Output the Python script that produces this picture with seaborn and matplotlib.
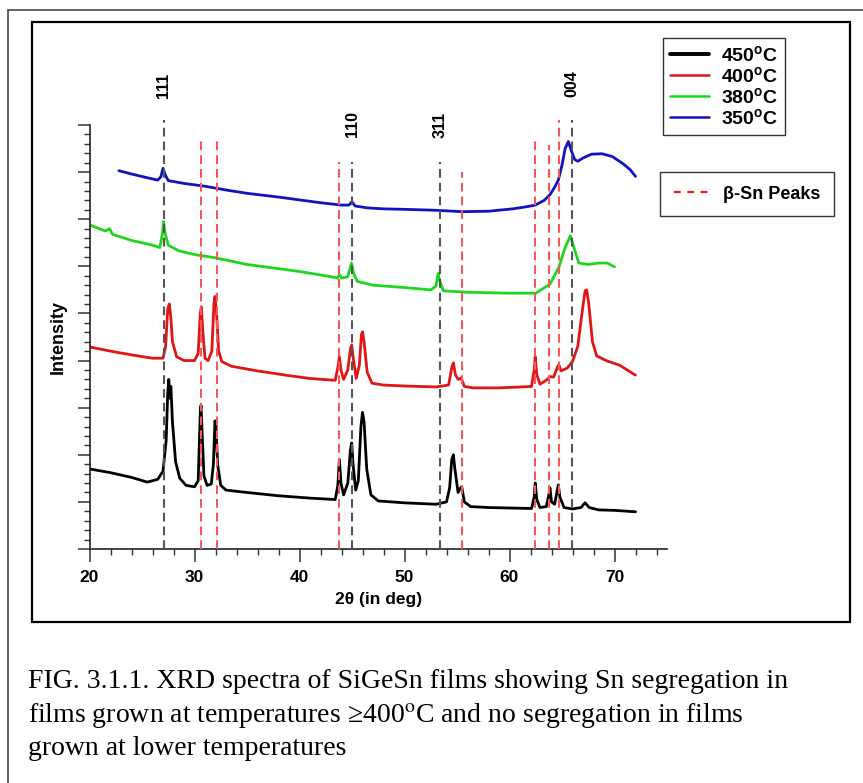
import numpy as np
import pandas as pd
import matplotlib
matplotlib.use("Agg")
import matplotlib.pyplot as plt
from matplotlib.lines import Line2D
from matplotlib.patches import Rectangle
from matplotlib.ticker import MultipleLocator, NullFormatter
import seaborn as sns

# ---------------------------------------------------------------- data
# XRD scans (2-theta in degrees, offset intensity in arbitrary units)
tt_450 = [20, 22, 24, 25.5, 26.5, 27.0, 27.3, 27.45, 27.55, 27.65, 27.75, 27.9, 28.2, 28.6,
          29.2, 30.0, 30.35, 30.55, 30.62, 30.72, 30.9, 31.2, 31.6, 31.8, 31.95, 32.05, 32.2,
          32.5, 33, 35, 38, 41, 43.4, 43.65, 43.8, 43.95, 44.2, 44.6, 44.85, 44.97, 45.1, 45.35,
          45.6, 45.85, 46.0, 46.15, 46.4, 46.8, 47.5, 50, 53, 54.0, 54.3, 54.5, 54.65, 54.8,
          55.1, 55.35, 55.45, 55.7, 56.3, 58, 60, 62.1, 62.35, 62.45, 62.6, 62.9, 63.5, 63.75,
          63.85, 64.0, 64.3, 64.55, 64.65, 64.8, 65.2, 66, 66.8, 67.2, 67.6, 68.5, 70, 72]
i_450 = [1.70, 1.62, 1.52, 1.42, 1.48, 1.65, 2.30, 3.30, 3.60, 3.20, 3.45, 2.70, 1.85, 1.50,
         1.35, 1.32, 1.45, 2.90, 3.05, 2.50, 1.55, 1.35, 1.38, 1.80, 2.72, 2.60, 1.80,
         1.35, 1.25, 1.20, 1.13, 1.08, 1.05, 1.35, 1.90, 1.40, 1.15, 1.40, 2.10, 2.25, 1.80, 1.25,
         1.45, 2.60, 2.90, 2.70, 1.70, 1.15, 1.02, 0.98, 0.95, 1.00, 1.30, 1.90, 2.00, 1.70,
         1.20, 1.30, 1.32, 1.00, 0.90, 0.88, 0.87, 0.86, 1.10, 1.40, 1.05, 0.88, 0.90, 1.15,
         1.30, 1.00, 0.95, 1.25, 1.36, 1.10, 0.88, 0.85, 0.88, 0.98, 0.88, 0.83, 0.82, 0.79]

tt_400 = [20, 22, 24, 26, 27.0, 27.25, 27.45, 27.6, 27.75, 27.9, 28.3, 29, 30, 30.35, 30.55,
          30.65, 30.8, 31.0, 31.3, 31.65, 31.85, 31.95, 32.1, 32.3, 32.6, 33.5, 36, 39, 41,
          43.4, 43.65, 43.8, 43.95, 44.2, 44.6, 44.85, 44.97, 45.15, 45.4, 45.7, 45.9, 46.0,
          46.15, 46.45, 46.9, 48, 50, 53, 54.2, 54.5, 54.65, 54.85, 55.1, 55.4, 55.7, 56.5, 59,
          62.1, 62.35, 62.45, 62.6, 62.9, 63.5, 63.85, 64.2, 64.6, 64.7, 64.9, 65.5, 66.0, 66.5,
          66.9, 67.2, 67.35, 67.55, 67.9, 68.3, 69.2, 70.5, 72.0]
i_400 = [4.29, 4.20, 4.12, 4.05, 4.05, 4.30, 5.10, 5.20, 4.90, 4.40, 4.08, 4.00, 4.00, 4.15, 5.00,
         5.14, 4.60, 4.05, 4.00, 4.20, 5.20, 5.36, 5.00, 4.20, 3.98, 3.88, 3.78, 3.68, 3.62,
         3.58, 3.85, 4.08, 3.80, 3.60, 3.80, 4.25, 4.33, 4.00, 3.62, 3.90, 4.55, 4.61,
         4.40, 3.75, 3.52, 3.48, 3.46, 3.44, 3.48, 3.85, 3.95, 3.70, 3.60, 3.63, 3.45, 3.42, 3.42,
         3.45, 3.80, 4.08, 3.70, 3.50, 3.58, 3.66, 3.65, 3.88, 3.91, 3.78, 3.84, 3.98, 4.30,
         5.00, 5.48, 5.50, 5.20, 4.40, 4.10, 4.00, 3.90, 3.69]

tt_380 = [20, 21.5, 21.9, 22.2, 24, 26, 26.7, 26.95, 27.05, 27.2, 27.5, 28.5, 30, 32, 35, 38,
          40, 43, 43.6, 43.8, 44.0, 44.6, 44.95, 45.15, 45.5, 47, 50, 52.5, 53.0, 53.2, 53.35,
          53.7, 56, 60, 62.5, 63.85, 64.7, 65.3, 65.8, 66.2, 66.6, 67.5, 68.5, 69.3, 70]
i_380 = [6.88, 6.75, 6.80, 6.68, 6.55, 6.45, 6.40, 6.70, 6.95, 6.70, 6.45, 6.33, 6.25, 6.18,
         6.04, 5.95, 5.89, 5.78, 5.75, 5.82, 5.75, 5.78, 6.07, 5.85, 5.68, 5.60, 5.55, 5.50,
         5.58, 5.85, 5.70, 5.48, 5.45, 5.43, 5.43, 5.62, 5.98, 6.40, 6.65, 6.35, 6.07, 6.04,
         6.07, 6.07, 5.99]

tt_350 = [22.8, 24, 25.5, 26.5, 26.8, 27.0, 27.2, 27.5, 29, 31, 33, 35, 38, 40, 42, 44, 44.7,
          45.0, 45.3, 46.5, 48, 50, 53, 55.5, 58, 60.3, 61.5, 62.45, 63.3, 63.85, 64.3, 64.65,
          65.0, 65.3, 65.6, 65.9, 66.2, 66.5, 67.0, 67.8, 68.8, 69.8, 70.8, 71.5, 72.0]
i_350 = [8.03, 7.96, 7.88, 7.83, 7.90, 8.08, 7.95, 7.82, 7.76, 7.70, 7.62, 7.55, 7.47, 7.41,
         7.35, 7.30, 7.30, 7.37, 7.28, 7.24, 7.22, 7.21, 7.19, 7.16, 7.17, 7.22, 7.26, 7.30,
         7.40, 7.52, 7.68, 7.83, 8.15, 8.50, 8.65, 8.45, 8.27, 8.23, 8.30, 8.38, 8.39, 8.33,
         8.18, 8.05, 7.91]

sample_labels = ["450", "400", "380", "350"]
sample_colors = ["#000000", "#e01616", "#1fd61f", "#1212c2"]

# substrate / film reflections
refl_pos = [27.05, 45.0, 53.35, 65.95]
refl_names = ["111", "110", "311", "004"]
refl_top = [9.1, 8.22, 8.22, 9.1]
refl_label_y = [9.85, 9.03, 9.0, 9.87]

# beta-Sn reflections
sn_pos = [30.65, 32.15, 43.8, 55.5, 62.45, 63.8, 64.7]
sn_top = [8.68, 8.68, 8.22, 8.0, 8.65, 8.58, 9.1]

caption_lines = [
    "FIG. 3.1.1. XRD spectra of SiGeSn films showing Sn segregation in",
    "films grown at temperatures \u2265400$^{\\mathrm{o}}$C and no segregation in films",
    "grown at lower temperatures",
]

# ---------------------------------------------------------------- style
sns.set_theme(style="white")
plt.rcParams["font.family"] = ["Liberation Sans", "DejaVu Sans"]
plt.rcParams["text.color"] = "black"
plt.rcParams["axes.labelcolor"] = "black"
plt.rcParams["xtick.color"] = "black"
plt.rcParams["ytick.color"] = "black"
plt.rcParams["mathtext.fontset"] = "custom"
plt.rcParams["mathtext.rm"] = "Liberation Sans:bold"
plt.rcParams["mathtext.bf"] = "Liberation Sans:bold"
plt.rcParams["mathtext.it"] = "Liberation Sans:bold"

W, H = 863, 783
fig = plt.figure(figsize=(W / 100, H / 100), dpi=100)


def fx(px):
    return px / W


def fy(py):
    return 1 - py / H


# page frame and figure box
fig.add_artist(Line2D([fx(8), fx(8)], [fy(10), fy(790)], color="#555555", lw=1.3,
                      transform=fig.transFigure))
fig.add_artist(Line2D([fx(8), fx(870)], [fy(10), fy(10)], color="#555555", lw=1.3,
                      transform=fig.transFigure))
fig.add_artist(Rectangle((fx(32), fy(622)), fx(850) - fx(32), fy(22) - fy(622),
                         transform=fig.transFigure, fill=False, ec="black", lw=1.6))

ax = fig.add_axes([fx(89.5), fy(549), fx(667) - fx(89.5), fy(125) - fy(549)])
ax.set_facecolor("none")

frames = []
for lab, tt, ii in zip(sample_labels, [tt_450, tt_400, tt_380, tt_350],
                       [i_450, i_400, i_380, i_350]):
    frames.append(pd.DataFrame({"two_theta": tt, "intensity": ii, "sample": lab}))
df = pd.concat(frames, ignore_index=True)

sns.lineplot(data=df, x="two_theta", y="intensity", hue="sample",
             hue_order=sample_labels, palette=sample_colors, sort=False,
             estimator=None, legend=False, lw=2.0, ax=ax, zorder=2)

dash = (0, (4.2, 2.4))
ax.vlines(refl_pos, 0, refl_top, colors="#555555", linestyles=dash, lw=1.5,
          clip_on=False, zorder=3)
ax.vlines(sn_pos, 0, sn_top, colors="#f05a5a", linestyles=dash, lw=1.5,
          clip_on=False, zorder=3)
for xp, name, yl in zip(refl_pos, refl_names, refl_label_y):
    ax.text(xp, yl, name, rotation=90, ha="center", va="center", fontsize=11.5,
            fontweight="bold", clip_on=False)

ax.set_xlim(20, 75)
ax.set_ylim(0, 9)
ax.xaxis.set_major_locator(MultipleLocator(10))
ax.xaxis.set_minor_locator(MultipleLocator(2))
ax.yaxis.set_major_locator(MultipleLocator(1))
ax.yaxis.set_minor_locator(MultipleLocator(0.2))
ax.yaxis.set_major_formatter(NullFormatter())
ax.tick_params(axis="both", which="major", direction="out", length=9, width=1.1,
               color="#333333", bottom=True, left=True)
ax.tick_params(axis="both", which="minor", direction="out", length=4.5, width=1.0,
               color="#333333", bottom=True, left=True)
ax.tick_params(axis="x", which="major", labelsize=12.5, pad=6)
for t in ax.get_xticklabels():
    t.set_fontweight("bold")
for side in ["top", "right"]:
    ax.spines[side].set_visible(False)
for side in ["left", "bottom"]:
    ax.spines[side].set_color("#222222")
    ax.spines[side].set_linewidth(1.2)

ax.set_xlabel("2\u03b8 (in deg)", fontsize=12.5, fontweight="bold", labelpad=5)
ax.set_ylabel("Intensity", fontsize=13, fontweight="bold", labelpad=4)

# legends
handles = [Line2D([], [], color=c, lw=2.8 if i == 0 else 1.8)
           for i, c in enumerate(sample_colors)]
labels = [f"{s}$^{{\\mathrm{{o}}}}$C" for s in sample_labels]
leg1 = fig.legend(handles, labels, loc="upper left",
                  bbox_to_anchor=(fx(663), fy(38)), bbox_transform=fig.transFigure,
                  frameon=True, fancybox=False, edgecolor="#333333", framealpha=1,
                  prop={"weight": "bold", "size": 14}, handlelength=2.0,
                  handletextpad=0.65, labelspacing=0.05, borderpad=0.35,
                  borderaxespad=0)
leg1.get_frame().set_linewidth(1.0)

sn_handle = Line2D([], [], color="#f01818", lw=1.6, linestyle=(0, (3, 3)))
leg2 = fig.legend([sn_handle], ["\u03b2-Sn Peaks"], loc="upper left",
                  bbox_to_anchor=(fx(660), fy(172)), bbox_transform=fig.transFigure,
                  frameon=True, fancybox=False, edgecolor="#333333", framealpha=1,
                  prop={"weight": "bold", "size": 13}, handlelength=2.2,
                  handletextpad=0.55, borderpad=0.75, borderaxespad=0)
leg2.get_frame().set_linewidth(1.0)

# caption
cap_font = dict(fontsize=20, family=["Liberation Serif", "DejaVu Serif"],
                math_fontfamily="stix", color="black")
for k, line in enumerate(caption_lines):
    fig.text(fx(28), fy(688 + 33.5 * k), line, ha="left", va="baseline", **cap_font)

fig.savefig("out.png", dpi=100)
